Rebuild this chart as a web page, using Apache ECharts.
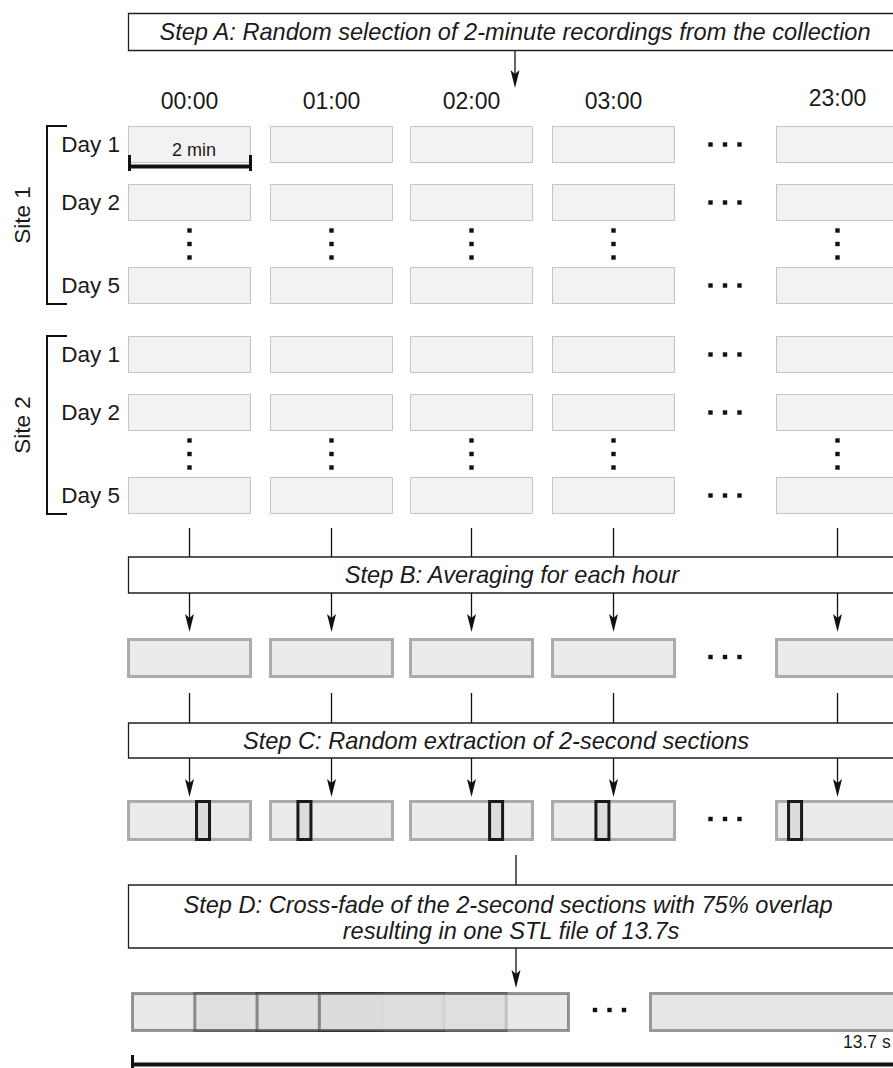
<!DOCTYPE html>
<html><head><meta charset="utf-8">
<script src="https://cdn.jsdelivr.net/npm/echarts@6/dist/echarts.min.js"></script>
<style>html,body{margin:0;padding:0;background:#fff}#c{width:893px;height:1068px}</style>
</head><body><div id="c"></div>
<script>
// ---------------- data ----------------
const hours = ['00:00', '01:00', '02:00', '03:00', '23:00'];
const sites = ['Site 1', 'Site 2'];
const days = ['Day 1', 'Day 2', 'Day 5'];
const stepA = ['Step A: Random selection of 2-minute recordings from the collection'];
const stepB = ['Step B: Averaging for each hour'];
const stepC = ['Step C: Random extraction of 2-second sections'];
const stepD = ['Step D: Cross-fade of the 2-second sections with 75% overlap', 'resulting in one STL file of 13.7s'];
const recordingLabel = '2 min';
const totalLabel = '13.7 s';
// relative position (0..1) of the extracted 2-second section inside each hourly average
const extractPos = [0.61, 0.28, 0.70, 0.41, 0.155];
// cross-fade: section start times (s), section length (s), hop (s)
const sectionStarts = [0, 0.5, 1.0, 1.5];
const sectionDur = 2;
const sectionHop = 0.5;

// ---------------- layout (pixels of the 893x1068 canvas) ----------------
const L = {
  colLeft: [128, 270, 410, 552, 776], boxW: 123,
  headerY: [101, 101, 101, 101, 98],
  siteTop: [126, 336], rowOff: [0, 58, 141], rowH: 37,
  ellX: 725, ellDx: 14.5,
  stepFont: 23.6,
  font: '"Liberation Sans", Arial, sans-serif'
};
const colC = L.colLeft.map(x => x + L.boxW / 2);

function R(api, x, y, w, h, style) {
  const p = api.coord([x, y]); const s = api.size([w, h]);
  return { type: 'rect', shape: { x: p[0], y: p[1], width: s[0], height: s[1] }, style: style };
}
function Ln(api, x1, y1, x2, y2, stroke, lw) {
  const a = api.coord([x1, y1]), b = api.coord([x2, y2]);
  return { type: 'line', shape: { x1: a[0], y1: a[1], x2: b[0], y2: b[1] }, style: { stroke: stroke || '#111', lineWidth: lw || 1.3 } };
}
function T(api, x, y, str, o) {
  o = o || {};
  const p = api.coord([x, y]);
  return {
    type: 'text', x: p[0], y: p[1], rotation: o.rot || 0,
    style: {
      text: str, fill: o.fill || '#1a1a1a', fontSize: o.size || 23, fontFamily: L.font,
      fontStyle: o.italic ? 'italic' : 'normal',
      align: o.align || 'center', verticalAlign: 'middle',
      textAlign: o.align || 'center', textVerticalAlign: 'middle'
    }
  };
}
function Arrow(api, x, y1, y2) {
  const pts = [[x, y2], [x - 4.5, y2 - 18], [x, y2 - 14], [x + 4.5, y2 - 18]].map(q => api.coord(q));
  return [Ln(api, x, y1, x, y2 - 14), { type: 'polygon', shape: { points: pts }, style: { fill: '#111' } }];
}
function Dot(api, x, y) { return R(api, x - 2.2, y - 2.2, 4.4, 4.4, { fill: '#111' }); }
function HDots(api, x, y, dx) { return [-1, 0, 1].map(k => Dot(api, x + k * dx, y)); }
function VDots(api, x, y) { return [-13.5, 0, 13.5].map(k => Dot(api, x, y + k)); }
function StepBox(api, y1, y2) { return R(api, 128.5, y1, 800, y2 - y1, { fill: '#fff', stroke: '#1f1f1f', lineWidth: 1.3 }); }

// recordings grid data
const recData = [];
sites.forEach((s, si) => days.forEach((d, di) => hours.forEach((h, hi) => recData.push([hi, si, di]))));

const chart = echarts.init(document.getElementById('c'), null, { renderer: 'svg' });
chart.setOption({
  animation: false,
  backgroundColor: '#fff',
  grid: { left: 0, right: 0, top: 0, bottom: 0 },
  xAxis: { type: 'value', min: 0, max: 893, show: false },
  yAxis: { type: 'value', min: 0, max: 1068, inverse: true, show: false },
  series: [
    { // 2-minute recordings
      type: 'custom', silent: true, clip: false, data: recData,
      renderItem(params, api) {
        const hi = api.value(0), si = api.value(1), di = api.value(2);
        return R(api, L.colLeft[hi] + 0.5, L.siteTop[si] + L.rowOff[di] + 0.5, L.boxW - 1, L.rowH - 1,
          { fill: '#f2f2f2', stroke: '#c4c4c4', lineWidth: 1 });
      }
    },
    { // hourly averages
      type: 'custom', silent: true, clip: false, data: hours.map((h, i) => [i]),
      renderItem(params, api) {
        const hi = api.value(0);
        return R(api, L.colLeft[hi] + 0.5, 639.5, L.boxW - 1, 37, { fill: '#ebebeb', stroke: '#ababab', lineWidth: 3 });
      }
    },
    { // extracted 2-second sections
      type: 'custom', silent: true, clip: false, data: hours.map((h, i) => [i, extractPos[i]]),
      renderItem(params, api) {
        const hi = api.value(0), f = api.value(1);
        const x0 = L.colLeft[hi] + 0.5, cx = L.colLeft[hi] + f * L.boxW;
        return { type: 'group', children: [
          R(api, x0, 801.5, L.boxW - 1, 38, { fill: '#ebebeb', stroke: '#ababab', lineWidth: 3 }),
          R(api, cx - 6.5, 801.5, 13, 38, { fill: '#dcdcdc', stroke: '#1a1a1a', lineWidth: 3 })
        ] };
      }
    },
    { // cross-faded sections
      type: 'custom', silent: true, clip: false, data: sectionStarts.map(s => [s]),
      renderItem(params, api) {
        const seg = (568.5 - 132.5) / 7;
        const x = 132.5 + api.value(0) / sectionHop * seg;
        return R(api, x, 993.5, sectionDur / sectionHop * seg, 37,
          { fill: 'rgba(219,219,219,0.65)', stroke: 'rgba(28,28,28,0.45)', lineWidth: 3 });
      }
    },
    { // annotations, boxes, arrows
      type: 'custom', silent: true, clip: false, data: [[0]],
      renderItem(params, api) {
        const c = [];
        const sf = L.stepFont;
        // Step A
        c.push(StepBox(api, 13.5, 50.5));
        c.push(T(api, 515, 32, stepA[0], { italic: true, size: sf }));
        c.push(...Arrow(api, 515, 50.5, 88));
        hours.forEach((h, i) => c.push(T(api, colC[i], L.headerY[i], h)));
        // sites
        sites.forEach((s, si) => {
          const top = L.siteTop[si], bot = top + L.rowOff[2] + L.rowH;
          c.push(Ln(api, 47, top, 47, bot, '#111', 2));
          c.push(Ln(api, 46, top, 67, top, '#111', 2));
          c.push(Ln(api, 46, bot, 67, bot, '#111', 2));
          c.push(T(api, 22, (top + bot) / 2, s, { rot: Math.PI / 2, size: 22.5 }));
          days.forEach((d, di) => {
            const yc = top + L.rowOff[di] + L.rowH / 2;
            c.push(T(api, 120, yc, d, { align: 'right', size: 22.5 }));
            c.push(...HDots(api, L.ellX, yc, L.ellDx));
          });
          const vy = top + L.rowOff[1] + L.rowH + (L.rowOff[2] - L.rowOff[1] - L.rowH) / 2;
          colC.forEach(x => c.push(...VDots(api, x, vy)));
        });
        // 2 min scale bar
        c.push(T(api, 194, 150, recordingLabel, { size: 18 }));
        c.push(Ln(api, 129.5, 166.5, 250.5, 166.5, '#111', 4));
        c.push(Ln(api, 129.5, 155, 129.5, 171, '#111', 3));
        c.push(Ln(api, 250.5, 155, 250.5, 171, '#111', 3));
        // Step B
        colC.forEach(x => c.push(Ln(api, x, 528, x, 557)));
        c.push(StepBox(api, 557, 593));
        c.push(T(api, 512, 575, stepB[0], { italic: true, size: sf }));
        colC.forEach(x => c.push(...Arrow(api, x, 593, 632)));
        c.push(...HDots(api, L.ellX, 657, L.ellDx));
        // Step C
        colC.forEach(x => c.push(Ln(api, x, 693, x, 723)));
        c.push(StepBox(api, 723, 758));
        c.push(T(api, 496, 741, stepC[0], { italic: true, size: sf }));
        colC.forEach(x => c.push(...Arrow(api, x, 758, 797)));
        c.push(...HDots(api, L.ellX, 819, L.ellDx));
        // Step D
        c.push(Ln(api, 516, 855, 516, 885));
        c.push(StepBox(api, 885, 948));
        c.push(T(api, 508, 905, stepD[0], { italic: true, size: sf }));
        c.push(T(api, 511, 931, stepD[1], { italic: true, size: sf }));
        c.push(...Arrow(api, 516, 948, 988));
        // final strip tail
        c.push(...HDots(api, 609.5, 1010, 14.5));
        c.push(R(api, 650.5, 993.5, 300, 37, { fill: '#e6e6e6', stroke: '#999', lineWidth: 3 }));
        c.push(T(api, 843, 1042, totalLabel, { align: 'left', size: 17.5 }));
        c.push(Ln(api, 131, 1064.5, 900, 1064.5, '#111', 4));
        c.push(Ln(api, 132.5, 1055, 132.5, 1068, '#111', 3));
        return { type: 'group', children: c };
      }
    }
  ]
});
</script></body></html>
